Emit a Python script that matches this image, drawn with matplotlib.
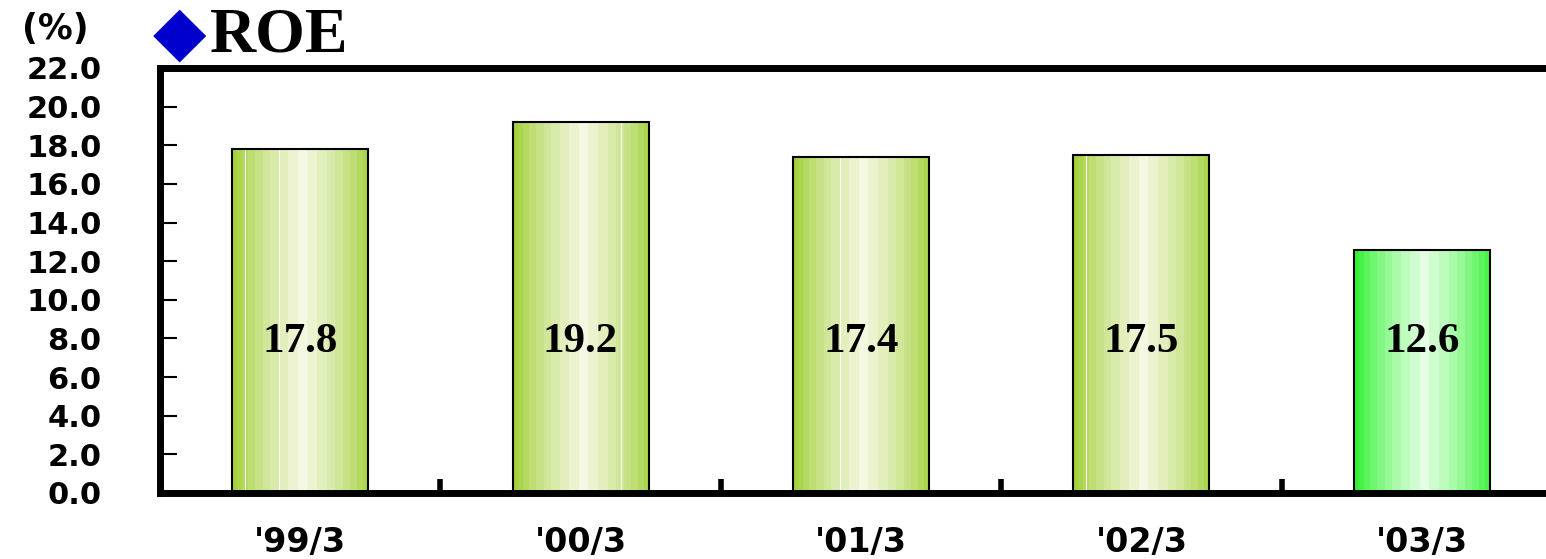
import numpy as np
import matplotlib.pyplot as plt
from matplotlib.patches import Rectangle
from matplotlib.colors import to_rgb

# adatok
years = ["'99/3", "'00/3", "'01/3", "'02/3", "'03/3"]
roe = [17.8, 19.2, 17.4, 17.5, 12.6]
bar_base = ['#9acd2a', '#9acd2a', '#9acd2a', '#9acd2a', '#22f022']
bar_light = ['#f4f8e2', '#f4f8e2', '#f4f8e2', '#f4f8e2', '#e4ffe4']
white_lines = [[0.1, 0.35], [0.8], [0.35], [0.1], [0.87]]

fig = plt.figure(figsize=(15.46, 5.59), dpi=100)
ax = fig.add_axes([160/1546, 1-493/559, 1402/1546, 425/559])

x = np.arange(len(years))
w = 0.485

# fenyes "henger" profil
u = np.linspace(0, 1, 200)
prof = np.clip(1 - np.abs(u - 0.52) / 0.52, 0, 1) ** 0.7
prof = np.round(prof * 10) / 10

for i, v in enumerate(roe):
    c0 = np.array(to_rgb(bar_base[i]))
    c1 = np.array(to_rgb(bar_light[i]))
    img = c0[None, :] * (1 - prof[:, None]) + c1[None, :] * prof[:, None]
    for wl in white_lines[i]:
        k = int(wl * 199)
        img[k] = [1, 1, 1]
    ax.imshow(img[None, :, :], extent=[x[i]-w/2, x[i]+w/2, 0, v], aspect='auto',
              interpolation='nearest', zorder=2)
    ax.add_patch(Rectangle((x[i]-w/2, 0), w, v, fill=False, ec='black', lw=1.5, zorder=3))
    ax.text(x[i], 7.8, f'{v:.1f}', ha='center', va='center', fontsize=31,
            fontweight='bold', family='Liberation Serif', zorder=4)

ax.set_xlim(-0.5, 4.5)
ax.set_ylim(0, 22)
ax.set_yticks(np.arange(0, 22.1, 2))
ax.set_yticklabels([f'{t:.1f}' for t in np.arange(0, 22.1, 2)],
                   fontsize=22, fontweight='heavy', family='DejaVu Sans')
ax.set_xticks(x)
ax.set_xticklabels(years, fontsize=24, fontweight='heavy', family='DejaVu Sans')
ax.set_xticks(x[:-1] + 0.5, minor=True)
ax.tick_params(axis='x', which='major', length=0, pad=24)
ax.tick_params(axis='x', which='minor', direction='in', length=10, width=4)
ax.tick_params(axis='y', direction='in', length=12, width=1.5, pad=42)

for s in ['left', 'bottom', 'top']:
    ax.spines[s].set_linewidth(5)
ax.spines['right'].set_visible(False)

fig.text(55/1546, 1-29/559, '(%)', ha='center', va='center', fontsize=25,
         fontweight='heavy', family='DejaVu Sans')
fig.text(180/1546, 1-34/559, '\u25c6', ha='center', va='center', fontsize=50,
         color='#0000cc', family='DejaVu Sans')
fig.text(210/1546, 1-36/559, 'ROE', ha='left', va='center', fontsize=46,
         fontweight='bold', family='Liberation Serif')

plt.savefig('out.png', dpi=100)
